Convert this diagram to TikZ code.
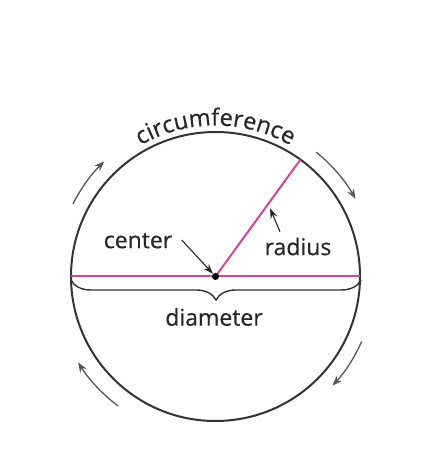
\documentclass[tikz,border=0pt]{standalone}
\usepackage{fontspec}
\setmainfont{Open Sans}[FakeBold=0.4]
\usetikzlibrary{calc,decorations.text,decorations.pathreplacing,arrows.meta}
\definecolor{ink}{HTML}{262626}
\definecolor{rim}{HTML}{333333}
\definecolor{pinkline}{HTML}{D8419A}
\definecolor{arrowgray}{HTML}{555555}
\begin{document}
\begin{tikzpicture}[x=1pt,y=1pt,
  lbl/.style={text=ink, font=\fontsize{23}{27}\selectfont, inner sep=0pt},
  circarrow/.style={draw=arrowgray, line width=1.3pt, -{Stealth[length=10pt,width=7.5pt]}},
  pointer/.style={draw=ink, line width=1.1pt, -{Stealth[length=10pt,width=7pt]}},
  pinkseg/.style={draw=pinkline, line width=2pt}]
\useasboundingbox (0,0) rectangle (428,466);
\coordinate (O) at (215.5,189.5);
\node[circle, draw=rim, line width=2pt, minimum size=289pt, inner sep=0pt, outer sep=0pt] (C) at (O) {};
% diameter and radius
\draw[pinkseg] (C.west) -- (C.east);
\draw[pinkseg] (O) -- (C.54.5);
\node[circle, fill=black, minimum size=7pt, inner sep=0pt] (dot) at (O) {};
% brace
\coordinate (bl) at (71,186);
\coordinate (br) at (361,186);
\draw[draw=rim, line width=1.4pt, decorate, decoration={brace, mirror, amplitude=20pt}] (bl) -- (br);
% labels
\node[lbl] (center) at (138,225.3) {center};
\node[lbl] (radius) at (298,219.5) {radius};
\node[lbl] (diam) at (214,149) {diameter};
% pointers
\coordinate (ctail) at (181.7,226);
\draw[pointer] (ctail) -- (dot);
\coordinate (rtail) at (280,234.3);
\coordinate (rhead) at (270,257.7);
\draw[pointer] (rtail) -- (rhead);
% circumference text
\coordinate (cs) at ($(O)+(150:151)$);
\path[decorate, decoration={text along path, text align=center, text color=ink,
  text={|\fontsize{23.5}{27}\selectfont|circumference}}] (cs) arc[start angle=150, end angle=30, radius=151];
% circulation arrows
\coordinate (a1) at ($(O)+(153:160)$);
\draw[circarrow] (a1) arc[start angle=153, end angle=134, radius=160];
\coordinate (a2) at ($(O)+(51:160)$);
\draw[circarrow] (a2) arc[start angle=51, end angle=29, radius=160];
\coordinate (a3) at ($(O)+(-24:160)$);
\draw[circarrow] (a3) arc[start angle=-24, end angle=-43, radius=160];
\coordinate (a4) at ($(O)+(-127:162)$);
\draw[circarrow] (a4) arc[start angle=-127, end angle=-148, radius=162];
\end{tikzpicture}
\end{document}
